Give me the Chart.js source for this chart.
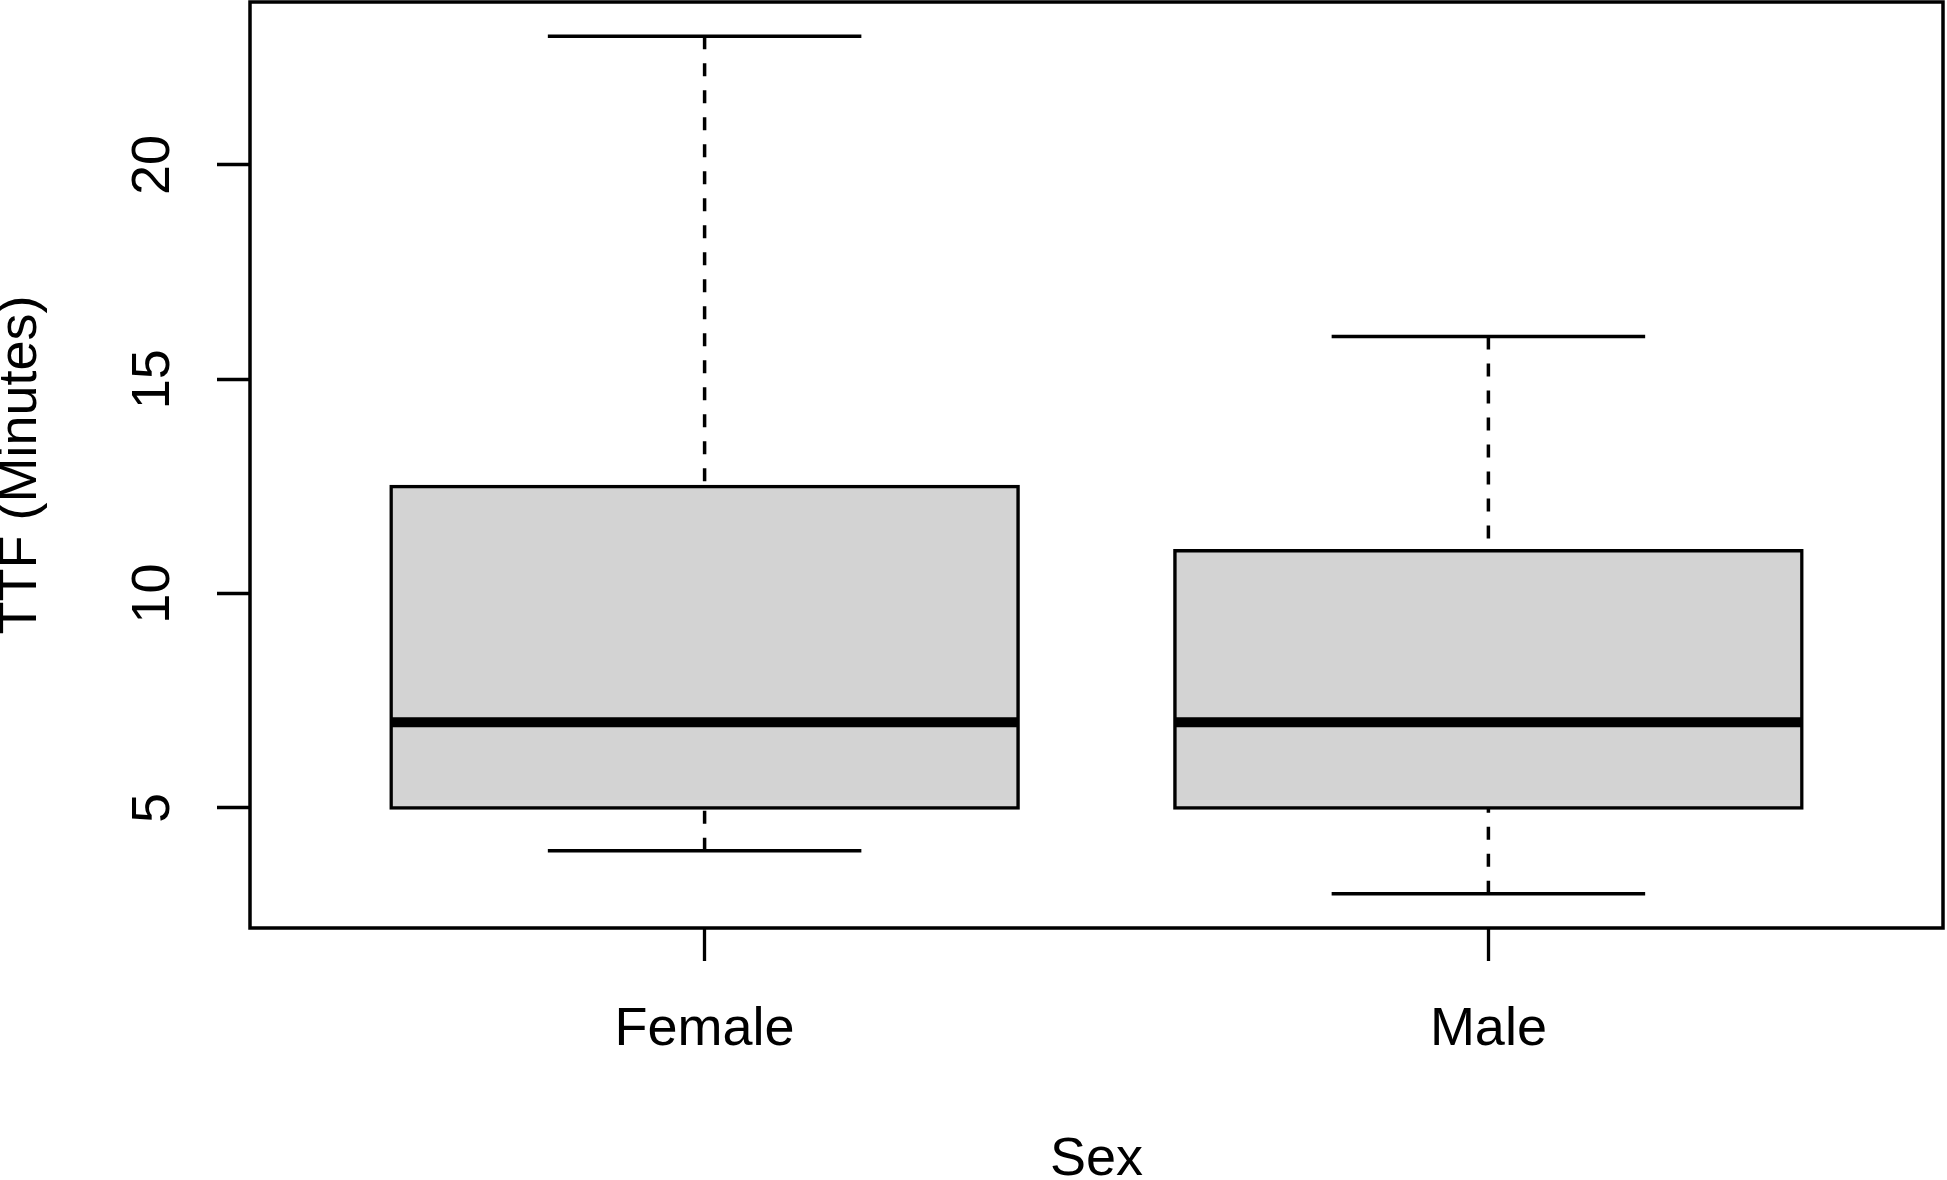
<!DOCTYPE html>
<html>
<head>
<meta charset="utf-8">
<script src="https://cdn.jsdelivr.net/npm/chart.js@4/dist/chart.umd.min.js"></script>
<style>
  html, body { margin: 0; padding: 0; background: #ffffff; }
  #wrap { width: 1947px; height: 1180px; position: relative; }
</style>
</head>
<body>
<div id="wrap"><canvas id="c"></canvas></div>
<script>
// ---- data ----
const categories   = ['Female', 'Male'];
const whiskerLow   = [4, 3];
const quartile1    = [5, 5];
const medians      = [7, 7];
const quartile3    = [12.5, 11];
const whiskerHigh  = [23, 16];
const yTickValues  = [5, 10, 15, 20];
const xTitle = 'Sex';
const yTitle = 'TTF (Minutes)';

// ---- style / geometry constants (not data) ----
const FONT = '"Liberation Sans", Arial, Helvetica, sans-serif';
const FS = 54;
const BOX_HALF = 0.4;     // half box width in category units (R: width 0.8)
const CAP_HALF = 0.2;     // staple half width (R: staplewex 0.5)
const LW = 3.5;

// axis ranges like R (4% extension)
const lo = Math.min(...whiskerLow), hi = Math.max(...whiskerHigh);
const yPad = 0.04 * (hi - lo);
const xMin = 0.5, xMax = categories.length + 0.5;
const xPad = 0.04 * (xMax - xMin);

const boxData = categories.map((c, i) => ({ x: i + 1, y: [quartile1[i], quartile3[i]] }));
const medianData = [];
const whiskerData = [];
const capData = [];
categories.forEach((c, i) => {
  const x = i + 1;
  medianData.push({ x: x - BOX_HALF, y: medians[i] }, { x: x + BOX_HALF, y: medians[i] }, { x: x + 0.5, y: null });
  // whiskers drawn from the whisker end toward the hinge (as R does)
  whiskerData.push({ x: x, y: whiskerHigh[i] }, { x: x, y: quartile3[i] }, { x: x + 0.01, y: null });
  whiskerData.push({ x: x, y: whiskerLow[i] }, { x: x, y: quartile1[i] }, { x: x + 0.02, y: null });
  capData.push({ x: x - CAP_HALF, y: whiskerHigh[i] }, { x: x + CAP_HALF, y: whiskerHigh[i] }, { x: x + 0.5, y: null });
  capData.push({ x: x - CAP_HALF, y: whiskerLow[i] }, { x: x + CAP_HALF, y: whiskerLow[i] }, { x: x + 0.5, y: null });
});

const framePlugin = {
  id: 'frame',
  afterDraw(chart) {
    const a = chart.chartArea, ctx = chart.ctx;
    ctx.save();
    ctx.strokeStyle = '#000';
    ctx.lineWidth = 3.5;
    ctx.strokeRect(a.left, a.top, a.right - a.left, a.bottom - a.top);
    ctx.restore();
  }
};

const lineCommon = { type: 'line', pointRadius: 0, pointHoverRadius: 0, tension: 0, fill: false,
  borderColor: '#000', spanGaps: false, order: 1, borderCapStyle: 'butt' };

new Chart(document.getElementById('c'), {
  type: 'bar',
  data: {
    datasets: [
      { type: 'bar', label: 'box', data: boxData, backgroundColor: '#d3d3d3', borderColor: '#000',
        borderWidth: LW, borderSkipped: false, inflateAmount: LW / 2, barPercentage: 0.8, categoryPercentage: 1, order: 3 },
      Object.assign({ label: 'whiskers', data: whiskerData, borderWidth: LW, borderDash: [13, 14] }, lineCommon),
      Object.assign({ label: 'caps', data: capData, borderWidth: LW }, lineCommon),
      Object.assign({ label: 'median', data: medianData, borderWidth: 10 }, lineCommon)
    ]
  },
  options: {
    responsive: true,
    maintainAspectRatio: false,
    animation: false,
    layout: { padding: { top: 2, right: 4, left: 0, bottom: 0 } },
    plugins: { legend: { display: false }, tooltip: { enabled: false } },
    scales: {
      x: {
        type: 'linear', position: 'bottom', offset: false,
        min: xMin - xPad, max: xMax + xPad,
        afterBuildTicks: (s) => { s.ticks = categories.map((c, i) => ({ value: i + 1 })); },
        afterFit: (s) => { s.height = 252; s.paddingLeft = 0; s.paddingRight = 0; },
        grid: { display: true, drawOnChartArea: false, drawTicks: true, tickLength: 33, tickWidth: 3.3, tickColor: '#000', offset: false },
        border: { display: false },
        ticks: { autoSkip: false, maxRotation: 0, minRotation: 0, padding: 37, color: '#000',
          font: { family: FONT, size: FS },
          callback: (v) => { const i = Math.round(v) - 1; return categories[i] !== undefined ? categories[i] : ''; } },
        title: { display: true, text: xTitle, color: '#000', padding: 0,
          font: { family: FONT, size: FS, lineHeight: 0.74 } }
      },
      y: {
        type: 'linear', position: 'left',
        min: lo - yPad, max: hi + yPad,
        afterBuildTicks: (s) => { s.ticks = yTickValues.map(v => ({ value: v })); },
        afterFit: (s) => { s.width = 250; s.paddingTop = 0; s.paddingBottom = 0; },
        grid: { display: true, drawOnChartArea: false, drawTicks: true, tickLength: 33, tickWidth: 3.3, tickColor: '#000' },
        border: { display: false },
        ticks: { autoSkip: false, minRotation: 90, maxRotation: 90, crossAlign: 'center', padding: 33, color: '#000',
          font: { family: FONT, size: FS } },
        title: { display: true, text: yTitle, color: '#000', padding: 0,
          font: { family: FONT, size: FS, lineHeight: 0.79 } }
      }
    }
  },
  plugins: [framePlugin]
});
</script>
</body>
</html>
